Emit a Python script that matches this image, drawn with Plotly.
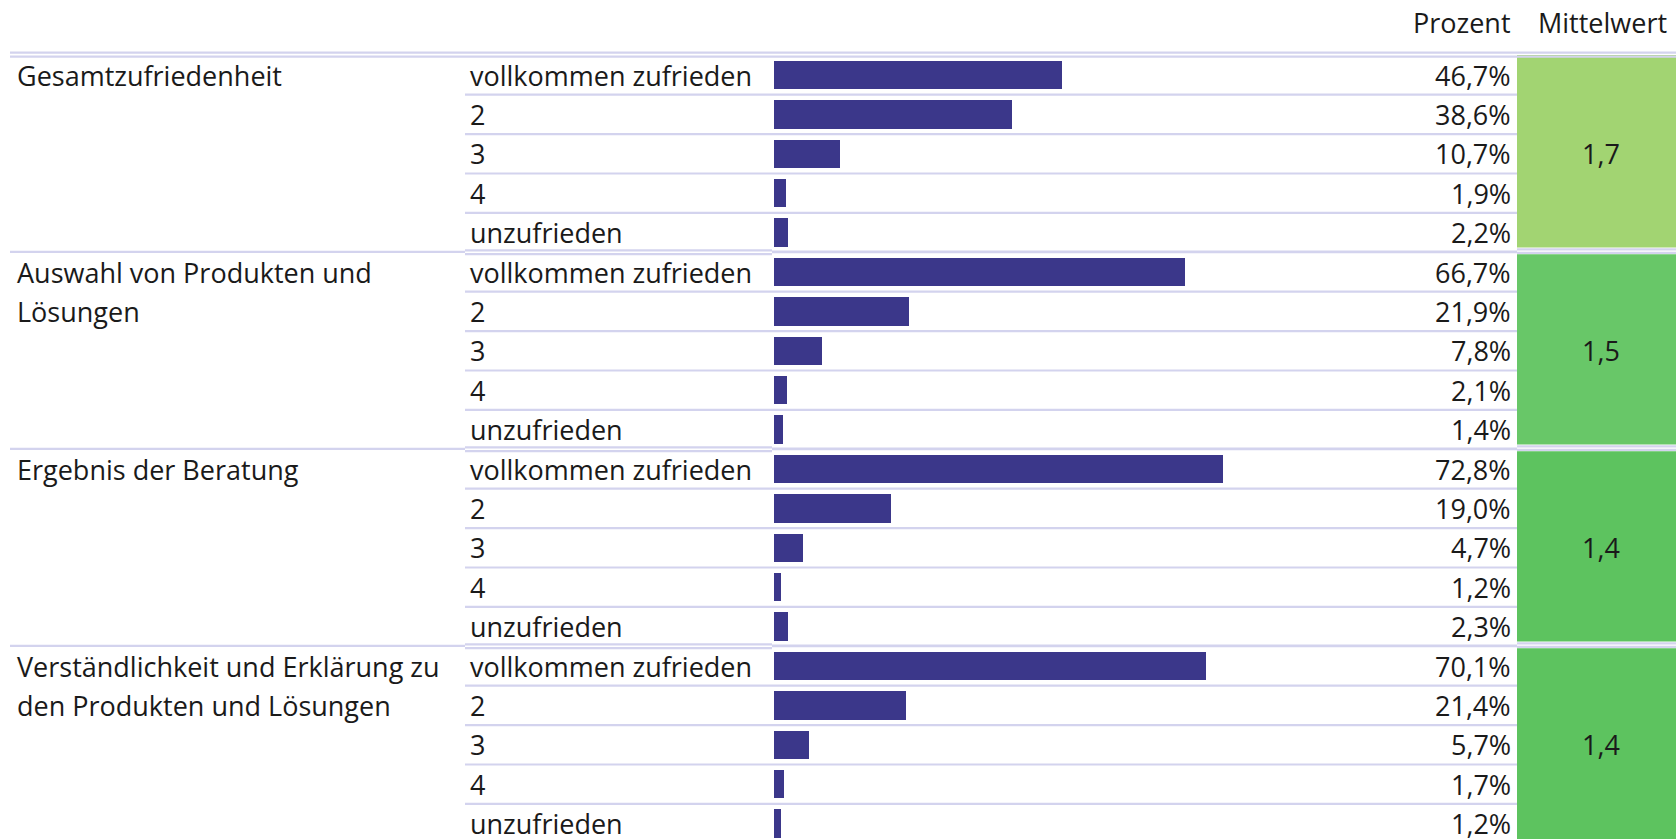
import plotly.graph_objects as go

# ---------------- data ----------------
group_lines = [
    ["Gesamtzufriedenheit"],
    ["Auswahl von Produkten und", "Lösungen"],
    ["Ergebnis der Beratung"],
    ["Verständlichkeit und Erklärung zu", "den Produkten und Lösungen"],
]
categories = ["vollkommen zufrieden", "2", "3", "4", "unzufrieden"]
pct_gesamt = [46.7, 38.6, 10.7, 1.9, 2.2]
pct_auswahl = [66.7, 21.9, 7.8, 2.1, 1.4]
pct_ergebnis = [72.8, 19.0, 4.7, 1.2, 2.3]
pct_verstaendlich = [70.1, 21.4, 5.7, 1.7, 1.2]
means = [1.7, 1.5, 1.4, 1.4]
mean_colors = ["#A2D472", "#68C768", "#5DC35F", "#5DC35F"]
header_pct = "Prozent"
header_mean = "Mittelwert"

groups_pct = [pct_gesamt, pct_auswahl, pct_ergebnis, pct_verstaendlich]

# ---------------- layout constants ----------------
W, H = 1676, 839
ROW_PX = 39.4          # pixel height of one row
TOP_PX = 55.3          # pixel position of the top boundary of the first row
PX = 1.0 / ROW_PX      # one pixel in row units
y_top = -0.5 - TOP_PX * PX
y_bot = -0.5 + (H - TOP_PX) * PX

BAR_X0, BAR_X1 = 774, 1510
PCT_PER_PX = 1 / 6.167
LINE_COL = "#D3D3EE"
BAR_COL = "#3B378A"
TXT_COL = "#1A1A1A"
FONT = "Open Sans"
FS = 27

def px(x):
    return x / W

n_per = len(categories)
rows_y, rows_x = [], []
for g, vals in enumerate(groups_pct):
    for j, v in enumerate(vals):
        rows_y.append(g * n_per + j)
        rows_x.append(v)

fig = go.Figure()
fig.add_trace(go.Bar(
    x=rows_x, y=rows_y, orientation="h", width=0.72,
    marker=dict(color=BAR_COL, line=dict(width=0)),
    hoverinfo="x+y", showlegend=False,
))

shapes = []
# mean colour boxes
n_groups = len(groups_pct)
for g in range(n_groups):
    b0 = g * n_per - 0.5
    b1 = (g + 1) * n_per - 0.5
    y0 = b0 - 0.3 * PX if g == 0 else b0 + 2.0 * PX
    y1 = b1 - 4.7 * PX if g < n_groups - 1 else y_bot + 1
    shapes.append(dict(type="rect", xref="paper", yref="y", x0=px(1517), x1=1.0,
                       y0=y0, y1=y1, fillcolor=mean_colors[g], line=dict(width=0),
                       layer="below"))

def hline(x0, x1, y, w=2.2):
    shapes.append(dict(type="line", xref="paper", yref="y", x0=px(x0), x1=px(x1),
                       y0=y, y1=y, line=dict(color=LINE_COL, width=w), layer="above"))

# header double line
hline(10, W, -0.5 - 2.6 * PX)
hline(10, W, -0.5 + 1.4 * PX)

# row separators and group boundaries
total = n_groups * n_per
for i in range(total - 1):
    b = i + 0.5
    if (i + 1) % n_per != 0:
        hline(465, 1517, b)
    else:
        hline(10, 465, b - 0.4 * PX)
        hline(465, 772, b - 2.0 * PX)
        hline(465, 772, b + 1.8 * PX)
        hline(772, 1517, b - 0.4 * PX, 2.8)
        hline(1517, W, b - 3.0 * PX)
        hline(1517, W, b + 0.6 * PX)

annotations = []
def ann(x, y, text, xanchor="left"):
    annotations.append(dict(xref="paper", yref="y", x=px(x), y=y, text=text,
                            showarrow=False, xanchor=xanchor, yanchor="middle",
                            font=dict(family=FONT, size=FS, color=TXT_COL)))

# headers
ann(1513, -0.5 - 32.5 * PX, header_pct, "right")
ann(1602, -0.5 - 32.5 * PX, header_mean, "center")

for g, vals in enumerate(groups_pct):
    for j, line in enumerate(group_lines[g]):
        ann(15, g * n_per + j, line)
    for j, v in enumerate(vals):
        r = g * n_per + j
        ann(468, r, categories[j])
        ann(1513, r, f"{v:.1f}".replace(".", ",") + "%", "right")
    ann(1601, g * n_per + 2, f"{means[g]:.1f}".replace(".", ","), "center")

fig.update_layout(
    width=W, height=H,
    margin=dict(l=0, r=0, t=0, b=0),
    paper_bgcolor="white", plot_bgcolor="white",
    shapes=shapes, annotations=annotations,
    xaxis=dict(domain=[px(BAR_X0), px(BAR_X1)],
               range=[0, (BAR_X1 - BAR_X0) * PCT_PER_PX],
               visible=False, fixedrange=True),
    yaxis=dict(range=[y_bot, y_top], visible=False, fixedrange=True),
    bargap=0,
)

fig.write_html(
    "out.html",
    config={"displayModeBar": False},
    post_script="document.body.style.margin='0px';document.body.style.overflow='hidden';",
)
